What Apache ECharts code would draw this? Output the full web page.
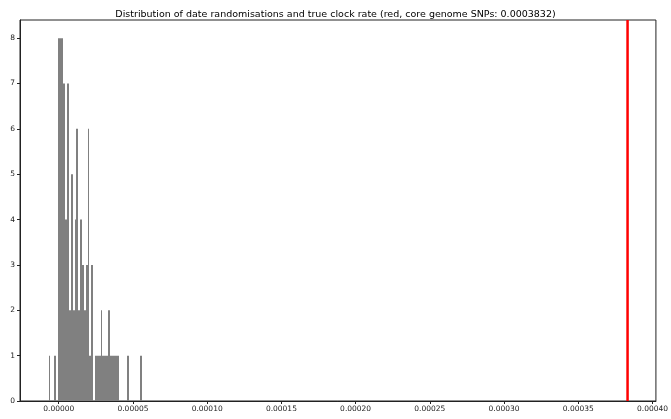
<!DOCTYPE html>
<html>
<head>
<meta charset="utf-8">
<script src="https://cdn.jsdelivr.net/npm/echarts@6/dist/echarts.min.js"></script>
<style>
  html, body { margin: 0; padding: 0; background: #fff; }
  #chart { width: 671px; height: 419px; }
</style>
</head>
<body>
<div id="chart"></div>
<script>
// histogram of the randomised clock rates (50 equal bins)
var histMin = -0.0000069;
var binWidth = 0.000001254;
var counts = [
  1, 0, 0, 1, 0, 8, 8, 8, 7, 4,
  7, 2, 5, 2, 4, 6, 2, 4, 3, 2,
  3, 6, 1, 3, 0, 1, 1, 1, 2, 1,
  1, 1, 2, 1, 1, 1, 1, 1, 0, 0,
  0, 0, 1, 0, 0, 0, 0, 0, 0, 1
];
// true clock rate (red line)
var clockRate = 0.0003832;
var xTickStep = 0.00005;
var yTicks = [0, 1, 2, 3, 4, 5, 6, 7, 8];
var yMax = 8.4;

var binData = [];
for (var i = 0; i < counts.length; i++) {
  var left = histMin + i * binWidth;
  binData.push([left, left + binWidth, counts[i]]);
}

var myChart = echarts.init(document.getElementById("chart"));
var font = "DejaVu Sans";

var option = {
  animation: false,
  title: {
    text: "Distribution of date randomisations and true clock rate (red, core genome SNPs: " + clockRate + ")",
    left: "center",
    top: 5,
    textStyle: {
      fontFamily: font,
      fontSize: 9.5,
      fontWeight: "normal",
      color: "#000"
    }
  },
  grid: {
    left: 20,
    right: 11,
    top: 20,
    bottom: 18,
    show: true,
    borderColor: "#222",
    borderWidth: 1
  },
  xAxis: {
    type: "value",
    min: -0.0000261,
    max: 0.0004023,
    splitNumber: 8,
    minInterval: xTickStep,
    maxInterval: xTickStep,
    splitLine: { show: false },
    axisLine: { show: true, onZero: false, lineStyle: { color: "#222", width: 1 } },
    axisTick: { show: true, length: 3, lineStyle: { color: "#222" } },
    axisLabel: {
      showMinLabel: false,
      showMaxLabel: false,
      fontFamily: font,
      fontSize: 7.5,
      color: "#222",
      margin: 4,
      formatter: function(v) {
        return v.toFixed(5);
      }
    }
  },
  yAxis: {
    type: "value",
    min: 0,
    max: yMax,
    interval: 1,
    splitLine: { show: false },
    axisLine: { show: true, onZero: false, lineStyle: { color: "#222", width: 1 } },
    axisTick: { show: true, length: 3, lineStyle: { color: "#222" } },
    axisLabel: {
      showMaxLabel: false,
      fontFamily: font,
      fontSize: 7.5,
      color: "#222",
      margin: 5,
      formatter: function(v) {
        return yTicks.indexOf(v) >= 0 ? String(v) : "";
      }
    }
  },
  series: [
    {
      type: "custom",
      name: "randomisations",
      data: binData,
      encode: { x: [0, 1], y: 2 },
      renderItem: function(params, api) {
        var p0 = api.coord([api.value(0), 0]);
        var p1 = api.coord([api.value(1), api.value(2)]);
        // snap to whole pixels so neighbouring bins join without seams
        var x0 = Math.round(p0[0]);
        var x1 = Math.round(p1[0]);
        return {
          type: "rect",
          shape: { x: x0, y: p1[1], width: x1 - x0, height: p0[1] - p1[1] },
          style: { fill: "#808080" }
        };
      }
    },
    {
      type: "line",
      name: "clock rate",
      data: [[clockRate, 0], [clockRate, yMax]],
      symbol: "none",
      silent: true,
      lineStyle: { color: "#ff0000", width: 2.5 }
    }
  ]
};
myChart.setOption(option);
window.addEventListener("resize", function() {
  myChart.resize();
});
</script>
</body>
</html>
